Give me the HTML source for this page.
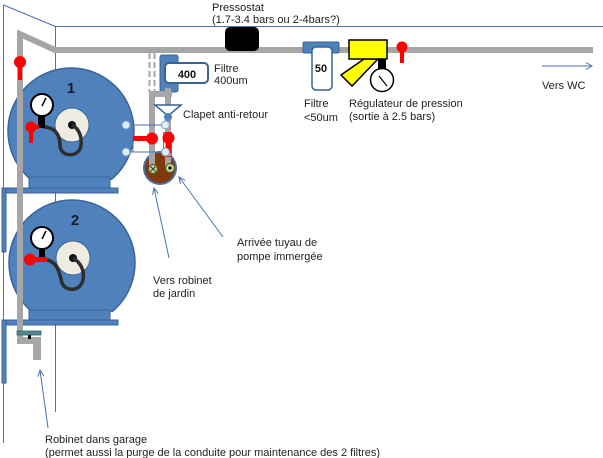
<!DOCTYPE html>
<html><head><meta charset="utf-8"><style>
html,body{margin:0;padding:0;background:#fff;}
svg{display:block;}
text{font-family:"Liberation Sans",Arial,sans-serif;font-size:11px;fill:#222;}
</style></head><body>
<svg width="603" height="458" viewBox="0 0 603 458" xmlns="http://www.w3.org/2000/svg">
<defs>
<clipPath id="c1"><rect x="0" y="0" width="200" height="180"/></clipPath>
<clipPath id="c2"><rect x="0" y="190" width="200" height="122"/></clipPath>
</defs>
<!-- walls -->
<g stroke="#4a72b0" stroke-width="1" fill="none">
<line x1="3.5" y1="5" x2="3.5" y2="443"/>
<line x1="3.5" y1="5" x2="55.5" y2="26.5"/>
<line x1="55.5" y1="26.5" x2="603" y2="26.5"/>
<line x1="55.5" y1="26" x2="55.5" y2="412"/>
</g>

<!-- Tank 1 -->
<circle cx="71" cy="131" r="63" fill="#4f81bd" stroke="#3b6496" stroke-width="1.5" clip-path="url(#c1)"/>
<rect x="29" y="177" width="81" height="11" fill="#4f81bd" stroke="#3b6496" stroke-width="1"/>
<rect x="2" y="188" width="116" height="5" fill="#4f81bd" stroke="#3b6496" stroke-width="1"/>
<rect x="2" y="188" width="4" height="64" fill="#4f81bd" stroke="#3b6496" stroke-width="1"/>
<circle cx="72" cy="125" r="17" fill="#eeece1" stroke="#3b6496" stroke-width="1"/>
<circle cx="72" cy="125" r="4" fill="#111"/>
<path d="M43,127 C55,127 60,135 60,145 C60,158 80,158 81,145 C82,135 78,128 72,125" fill="none" stroke="#2e2e2e" stroke-width="3.5"/>
<rect x="38" y="113" width="7" height="15" fill="#000"/>
<circle cx="42" cy="105" r="11" fill="#fff" stroke="#000" stroke-width="2"/>
<line x1="42" y1="106" x2="46" y2="98" stroke="#000" stroke-width="1.5"/>
<rect x="31" y="125" width="8" height="4" fill="#f00"/>
<rect x="29" y="127" width="4" height="16" fill="#f00"/>
<circle cx="31" cy="127" r="5.5" fill="#f00"/>
<text x="71" y="93" text-anchor="middle" style="font-size:15px;font-weight:bold;fill:#1a1a2a">1</text>

<!-- Tank 2 -->
<circle cx="72" cy="263" r="63" fill="#4f81bd" stroke="#3b6496" stroke-width="1.5" clip-path="url(#c2)"/>
<rect x="29" y="310" width="81" height="10" fill="#4f81bd" stroke="#3b6496" stroke-width="1"/>
<rect x="2" y="320" width="116" height="5" fill="#4f81bd" stroke="#3b6496" stroke-width="1"/>
<rect x="2" y="320" width="4" height="63" fill="#4f81bd" stroke="#3b6496" stroke-width="1"/>
<circle cx="73" cy="258" r="17" fill="#eeece1" stroke="#3b6496" stroke-width="1"/>
<circle cx="73" cy="258" r="4" fill="#111"/>
<path d="M47,260 C58,262 60,275 62,283 C66,292 80,292 83,280 C85,270 80,262 73,258" fill="none" stroke="#2e2e2e" stroke-width="3.5"/>
<rect x="39" y="246" width="6" height="12" fill="#000"/>
<circle cx="42" cy="238" r="11" fill="#fff" stroke="#000" stroke-width="2"/>
<line x1="42" y1="239" x2="46" y2="231" stroke="#000" stroke-width="1.5"/>
<text x="75" y="225" text-anchor="middle" style="font-size:15px;font-weight:bold;fill:#1a1a2a">2</text>

<!-- main pipe -->
<polyline points="20,343 20,34 55,50 593,50" fill="none" stroke="#a6a6a6" stroke-width="6" stroke-linejoin="miter"/>
<rect x="30" y="257" width="17" height="5" fill="#f00"/>
<circle cx="30" cy="259.5" r="6" fill="#f00"/>
<rect x="18" y="62" width="4" height="18" fill="#f00"/>
<circle cx="20" cy="62" r="6" fill="#f00"/>

<!-- garage tap -->
<rect x="17" y="337" width="24" height="7" fill="#a6a6a6"/>
<rect x="33" y="337" width="8" height="23" fill="#a6a6a6"/>
<rect x="17" y="331" width="24" height="4" fill="#4e8a8c" stroke="#2f5f66" stroke-width="0.8"/>
<rect x="28" y="335" width="3" height="4" fill="#000"/>

<!-- middle section -->
<line x1="149.5" y1="53" x2="149.5" y2="92" stroke="#a6a6a6" stroke-width="2" stroke-dasharray="6,3"/>
<line x1="154.5" y1="53" x2="154.5" y2="92" stroke="#a6a6a6" stroke-width="2" stroke-dasharray="6,3"/>
<rect x="160" y="55" width="18" height="37" rx="2" fill="#4f81bd" stroke="#3b6496" stroke-width="1"/>
<rect x="165" y="63" width="43" height="20" rx="4" fill="#fff" stroke="#3b6496" stroke-width="2"/>
<text x="187" y="78" text-anchor="middle" style="font-weight:bold;fill:#111">400</text>

<circle cx="160" cy="168" r="16" fill="#80390d" stroke="#4a6fa5" stroke-width="2"/>
<rect x="149" y="91" width="23" height="6" fill="#a6a6a6"/>
<rect x="149" y="92" width="6" height="76" fill="#a6a6a6"/>
<rect x="165" y="88" width="6" height="78" fill="#a6a6a6"/>
<polygon points="155,105 181,105 168,116" fill="#fff" stroke="#3b6496" stroke-width="1.5"/>
<circle cx="168" cy="117" r="4" fill="#4f81bd"/>

<g stroke="#4a72b0" stroke-width="1">
<line x1="127" y1="125" x2="165" y2="125"/>
<line x1="127" y1="152" x2="165" y2="152"/>
<line x1="133" y1="125" x2="133" y2="152"/>
</g>
<rect x="163.5" y="132.5" width="8" height="24" fill="none" stroke="#f00" stroke-width="0.8"/>
<rect x="133" y="136" width="17" height="5" fill="#f00"/>
<circle cx="152" cy="138.5" r="6" fill="#f00"/>
<rect x="166" y="138" width="5" height="15" fill="#f00"/>
<circle cx="168.5" cy="138" r="6" fill="#f00"/>
<g fill="#dbeef4" stroke="#7f9fbf" stroke-width="1">
<circle cx="126" cy="125" r="4"/>
<circle cx="126" cy="152" r="4"/>
<circle cx="165.5" cy="125" r="4"/>
<circle cx="165.5" cy="152" r="4"/>
</g>
<circle cx="153" cy="169" r="4.5" fill="#c3d69b" stroke="#4f6228" stroke-width="1.2"/>
<path d="M150.5,166.5 L155.5,171.5 M155.5,166.5 L150.5,171.5" stroke="#333" stroke-width="1"/>
<circle cx="170" cy="168" r="4.5" fill="#c3d69b" stroke="#4f6228" stroke-width="1.2"/>
<circle cx="170" cy="168" r="1.6" fill="#000"/>

<!-- pressostat -->
<rect x="225" y="27" width="34" height="24" rx="5" fill="#000"/>

<!-- filter 50 -->
<rect x="303" y="42" width="36" height="11" rx="1.5" fill="#4f81bd" stroke="#3b6496" stroke-width="1"/>
<rect x="312" y="47" width="20" height="43" rx="4" fill="#fff" stroke="#3b6496" stroke-width="1.5"/>
<text x="321" y="72" text-anchor="middle" style="font-weight:bold;fill:#111">50</text>

<!-- regulator -->
<polygon points="341,75 352,86 378,59 364,59" fill="#ffff00" stroke="#000" stroke-width="1.5"/>
<rect x="349" y="40" width="38" height="19" fill="#ffff00" stroke="#000" stroke-width="1.5"/>
<rect x="378" y="59" width="8" height="11" fill="#000"/>
<circle cx="382" cy="80" r="11.5" fill="#fff" stroke="#000" stroke-width="1.5"/>
<line x1="379" y1="76" x2="387" y2="86" stroke="#000" stroke-width="1.2"/>
<rect x="400" y="47" width="4" height="16" fill="#f00"/>
<circle cx="402" cy="47" r="5.5" fill="#f00"/>

<!-- arrows -->
<g stroke="#4a72b0" stroke-width="1" fill="none">
<line x1="542" y1="66" x2="592" y2="66"/>
<polyline points="586,62.5 592,66 586,69.5"/>
<line x1="169" y1="258" x2="154" y2="188"/>
<polyline points="152.5,194.8 154,188 158.3,193.6"/>
<line x1="223" y1="237" x2="179" y2="177"/>
<polyline points="180.4,183.9 179,177 185.1,180.4"/>
<line x1="48" y1="428" x2="40" y2="370"/>
<polyline points="37.9,376.7 40,370 43.8,375.9"/>
</g>

<!-- labels -->
<text x="212" y="11">Pressostat</text>
<text x="212" y="23">(1.7-3.4 bars ou 2-4bars?)</text>
<text x="214" y="72">Filtre</text>
<text x="214" y="84">400um</text>
<text x="183" y="118">Clapet  anti-retour</text>
<text x="304" y="107">Filtre</text>
<text x="304" y="121">&lt;50um</text>
<text x="349" y="107">Régulateur  de  pression</text>
<text x="349" y="120">(sortie à 2.5 bars)</text>
<text x="542" y="89">Vers WC</text>
<text x="237" y="246">Arrivée tuyau  de</text>
<text x="237" y="260">pompe  immergée</text>
<text x="153" y="284">Vers robinet</text>
<text x="153" y="297">de jardin</text>
<text x="45" y="443">Robinet  dans  garage</text>
<text x="45" y="456">(permet  aussi la purge de la conduite pour maintenance  des 2 filtres)</text>
</svg>
</body></html>
